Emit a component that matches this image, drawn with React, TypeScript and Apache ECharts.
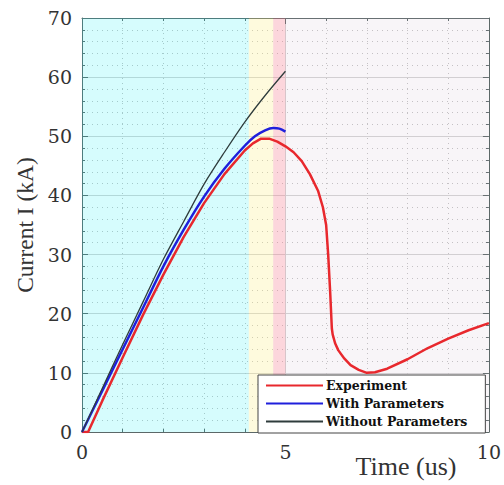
import React, { useEffect, useRef } from 'react';
import * as echarts from 'echarts';

const expT = [0, 0.15, 0.5, 1, 1.5, 2, 2.5, 3, 3.5, 4, 4.2, 4.4, 4.6, 4.8, 5, 5.2, 5.4, 5.6, 5.8, 5.92, 6.0, 6.05, 6.1, 6.14, 6.16, 6.22, 6.3, 6.45, 6.6, 6.8, 7.0, 7.2, 7.5, 8, 8.5, 9, 9.5, 10];
const expI = [0, 0, 5.3, 12.6, 19.8, 26.6, 33.0, 38.7, 43.6, 47.6, 48.8, 49.6, 49.6, 49.1, 48.3, 47.3, 45.8, 43.6, 40.8, 38.0, 35.0, 30.0, 23.5, 17.5, 16.5, 15.0, 13.8, 12.4, 11.3, 10.5, 10.0, 10.1, 10.7, 12.3, 14.2, 15.8, 17.2, 18.4];

const withT = [0, 0.5, 1, 1.5, 2, 2.5, 3, 3.5, 4, 4.25, 4.5, 4.7, 4.85, 5];
const withI = [0, 7.0, 14.0, 21.0, 28.0, 34.2, 39.8, 44.5, 48.4, 50.0, 51.0, 51.4, 51.3, 50.8];

const woT = [0, 0.5, 1, 1.5, 2, 2.5, 3, 3.5, 4, 4.5, 5];
const woI = [0, 7.4, 14.8, 22.0, 29.2, 35.6, 41.9, 47.3, 52.4, 56.9, 61.0];

const seriesNames = ['Experiment', 'With Parameters', 'Without Parameters'];
const xTickInterval = 5;
const yTickInterval = 10;
const regionBounds = [0, 4.1, 4.7, 5, 10];

const pairs = (t: number[], v: number[]) => t.map((x, i) => [x, v[i]]);

export default function App() {
  const ref = useRef<HTMLDivElement>(null);
  useEffect(() => {
    const chart = echarts.init(ref.current!, null, { renderer: 'svg' });
    const font = 'DejaVu Serif';
    const nameFont = 'Liberation Serif';
    const axisColor = '#5c6868';
    const baseAxis = {
      type: 'value' as const,
      axisLine: { show: true, onZero: false, lineStyle: { color: axisColor, width: 1 } },
      axisTick: { show: true, inside: true, length: 6, lineStyle: { color: axisColor } },
      minorTick: { show: true, splitNumber: 5, length: 3, lineStyle: { color: axisColor } },
    };
    const regionColors = ['rgba(0,235,240,0.16)', 'rgba(250,235,120,0.25)', 'rgba(245,120,140,0.3)', 'rgba(200,170,200,0.12)'];
    chart.setOption({
      animation: false,
      backgroundColor: '#ffffff',
      grid: { left: 82, right: 15, top: 18, bottom: 53, containLabel: false },
      xAxis: [
        {
          ...baseAxis,
          position: 'bottom',
          min: 0, max: 10, interval: xTickInterval,
          axisLabel: { fontFamily: font, fontSize: 19, color: '#333', margin: 10 },
          splitLine: { show: true, lineStyle: { color: '#d4d4d4', width: 1 } },
          minorSplitLine: { show: true, lineStyle: { color: '#c4c4c4', type: [1, 4], width: 1 } },
        },
        {
          ...baseAxis,
          position: 'top',
          min: 0, max: 10, interval: xTickInterval,
          axisLabel: { show: false },
          splitLine: { show: false },
        },
      ],
      yAxis: [
        {
          ...baseAxis,
          position: 'left',
          min: 0, max: 70, interval: yTickInterval,
          name: 'Current I (kA)',
          nameLocation: 'middle',
          nameGap: 45,
          nameTextStyle: { fontFamily: nameFont, fontSize: 23.5, color: '#333' },
          axisLabel: { fontFamily: font, fontSize: 19, color: '#333', margin: 10 },
          splitLine: { show: true, lineStyle: { color: '#d4d4d4', width: 1 } },
          minorSplitLine: { show: true, lineStyle: { color: '#c4c4c4', type: [1, 4], width: 1 } },
        },
        {
          ...baseAxis,
          position: 'right',
          min: 0, max: 70, interval: yTickInterval,
          axisLabel: { show: false },
          splitLine: { show: false },
        },
      ],
      legend: {
        data: seriesNames,
        orient: 'vertical',
        left: 258,
        top: 375,
        itemWidth: 57,
        itemHeight: 12,
        itemGap: 5,
        padding: [4, 18, 5, 7],
        backgroundColor: '#ffffff',
        borderColor: '#444',
        borderWidth: 1,
        borderRadius: 0,
        itemStyle: { opacity: 0 },
        textStyle: { fontFamily: font, fontSize: 12.5, fontWeight: 'bold', color: '#111', lineHeight: 12, padding: [0, 0, 0, -2] },
      },
      graphic: [
        {
          type: 'text',
          x: 406,
          y: 466,
          style: { text: 'Time (us)', fontFamily: nameFont, fontSize: 26, fill: '#333', align: 'center', verticalAlign: 'middle' },
        },
      ],
      series: [
        {
          name: seriesNames[0],
          type: 'line',
          data: pairs(expT, expI),
          showSymbol: false,
          symbol: 'none',
          smooth: false,
          lineStyle: { color: '#e8282d', width: 2.5 },
          itemStyle: { color: '#e8282d' },
          z: 3,
          markArea: {
            silent: true,
            data: regionColors.map((c, i) => [
              { xAxis: regionBounds[i], yAxis: 0, itemStyle: { color: c } },
              { xAxis: regionBounds[i + 1], yAxis: 70 },
            ]),
          },
        },
        {
          name: seriesNames[1],
          type: 'line',
          data: pairs(withT, withI),
          showSymbol: false,
          symbol: 'none',
          smooth: 0.3,
          lineStyle: { color: '#1f1fdc', width: 2.5 },
          itemStyle: { color: '#1f1fdc' },
          z: 4,
        },
        {
          name: seriesNames[2],
          type: 'line',
          data: pairs(woT, woI),
          showSymbol: false,
          symbol: 'none',
          smooth: 0.3,
          lineStyle: { color: '#2f3c3c', width: 1.3 },
          itemStyle: { color: '#2f3c3c' },
          z: 5,
        },
      ],
    });
    return () => chart.dispose();
  }, []);
  return <div ref={ref} style={{ position: 'fixed', left: 0, top: 0, width: 504, height: 485 }} />;
}
